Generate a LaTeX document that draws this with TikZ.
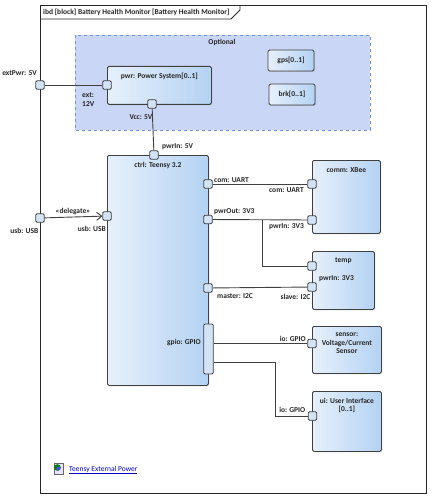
\documentclass[tikz,border=0pt]{standalone}
\usepackage{fontspec}
\setmainfont{Carlito}
\usepackage{xcolor}
\usetikzlibrary{calc, arrows.meta, shadows}

\definecolor{blkL}{HTML}{E6F0FC}
\definecolor{blkR}{HTML}{B4D2F3}
\definecolor{portC}{HTML}{D3E4F8}
\definecolor{optC}{HTML}{CAD6F5}
\definecolor{optD}{HTML}{6F93E2}
\definecolor{lineC}{HTML}{404040}

\tikzset{
	lbl/.style={font=\fontsize{7.5}{8.5}\selectfont\bfseries, text=black!85, inner sep=0pt, align=center},
	block/.style={lbl, draw=lineC, line width=0.8pt, rounded corners=1.5pt, left color=blkL, right color=blkR, anchor=north west,
		drop shadow={shadow xshift=1pt, shadow yshift=-1pt, opacity=.25}},
	port/.style={draw=lineC, line width=0.8pt, fill=portC, rounded corners=1.2pt, minimum size=8.5pt, inner sep=0pt},
	wire/.style={draw=lineC, line width=0.9pt},
	ttl/.style={lbl, anchor=north}
}

\begin{document}
\begin{tikzpicture}[x=1pt, y=-1pt]
		\useasboundingbox (0,0) rectangle (433,500);
		
		% frame
		\draw [black!85, line width=1pt] (40,6) rectangle (426,493);
		\draw [black!85, line width=0.8pt] (40,19) -- (231,19) -- (240,10) -- (240,6);
		\node [lbl, anchor=west] (title) at (43,12.5) {ibd [block] Battery Health Monitor [Battery Health Monitor]};
		
		% optional region
		\draw [optD, fill=optC, dashed, line width=0.8pt] (75,35) rectangle (370,130);
		\node [lbl] (optional) at (222,42) {Optional};
		
		\node [block, minimum width=104pt, minimum height=38pt] (pwr) at (107,66) {};
		\node [ttl] at ($(pwr.north)+(0,7)$) {pwr: Power System[0..1]};
		\node [block, minimum width=46pt, minimum height=21pt, anchor=center] (gps) at (291,60.5) {gps[0..1]};
		\node [block, minimum width=46pt, minimum height=21pt, anchor=center] (brk) at (292,94.5) {brk[0..1]};
		
		% teensy
		\node [block, minimum width=101pt, minimum height=230pt] (ctrl) at (107,155) {};
		\node [ttl] at ($(ctrl.north)+(0,7)$) {ctrl: Teensy 3.2};
		
		\node [block, minimum width=68pt, minimum height=73pt] (comm) at (312,160) {};
		\node [ttl] at ($(comm.north)+(0,7)$) {comm: XBee};
		
		\node [block, minimum width=62pt, minimum height=58pt] (temp) at (312,251) {};
		\node [ttl] at ($(temp.north)+(0,7)$) {temp};
		
		\node [block, minimum width=69pt, minimum height=47pt] (sensor) at (312,326) {};
		\node [ttl] at ($(sensor.north)+(0,7)$) {sensor:\\Voltage/Current\\Sensor};
		
		\node [block, minimum width=69pt, minimum height=60pt] (ui) at (312,391) {};
		\node [ttl] at ($(ui.north)+(0,7)$) {ui: User Interface\\{}[0..1]};
		
		% ports
		\node [port] (fExt) at (40,85) {};
		\node [port] (fUsb) at (40,218) {};
		\node [port] (pExt) at (107,85) {};
		\node [port] (pVcc) at (152,104) {};
		\node [port] (cPwr) at (154,155) {};
		\node [port] (cUsb) at (107,216) {};
		\node [port] (cCom) at (208,184) {};
		\node [port] (cOut) at (208,219.5) {};
		\node [port] (cMst) at (208,288) {};
		\node [port, minimum width=9.5pt, minimum height=50pt] (cGpio) at (208.5,349) {};
		\node [port] (xCom) at (312,184) {};
		\node [port] (xPwr) at (312,220) {};
		\node [port] (tPwr) at (312,266) {};
		\node [port] (tSl) at (312,287) {};
		\node [port] (sIo) at (312,343.5) {};
		\node [port] (uIo) at (312.5,416) {};
		
		% wires
		\coordinate (jOut) at (262,219.5);
		\coordinate (jGpio) at (275,362);
		
		\draw [wire] (fExt) -- (pExt);
		\draw [wire] (pVcc) -- (cPwr);
		\draw [wire, -{Straight Barb[length=5pt, width=8pt]}] (fUsb) -- (cUsb);
		\draw [wire] (cCom) -- (xCom);
		\draw [wire] (cOut) -- (xPwr);
		\draw [wire] (jOut) |- (tPwr);
		\draw [wire] (cMst) -- (tSl);
		\draw [wire] (cGpio.east |- sIo) -- (sIo);
		\draw [wire] (cGpio.east |- jGpio) -- (jGpio) |- (uIo);
		
		% port labels
		\node [lbl, anchor=east] at (37,73) {extPwr: 5V};
		\node [lbl, anchor=north west, align=left] at (82,93) {ext:\\12V};
		\node [lbl] at (141,117) {Vcc: 5V};
		\node [lbl, anchor=west] at (162,147) {pwrIn: 5V};
		\node [lbl] at (73,212) {«delegate»};
		\node [lbl, anchor=east] at (38.5,231) {usb: USB};
		\node [lbl, anchor=east] at (106,229) {usb: USB};
		\node [lbl, anchor=west] at (214,180) {com: UART};
		\node [lbl, anchor=west] at (214,212) {pwrOut: 3V3};
		\node [lbl, anchor=west] at (217,296) {master: I2C};
		\node [lbl, anchor=east] at (201,343) {gpio: GPIO};
		\node [lbl, anchor=east] at (304,190) {com: UART};
		\node [lbl, anchor=east] at (304,227) {pwrIn: 3V3};
		\node [lbl, anchor=west] at (319,279) {pwrIn: 3V3};
		\node [lbl, anchor=east] at (310.5,297) {slave: I2C};
		\node [lbl, anchor=east] at (306,339) {io: GPIO};
		\node [lbl, anchor=east] at (305.5,410) {io: GPIO};
		
		% hyperlink
		\draw [black!60, fill=blue!10] (54,463) rectangle (63,474);
		\fill [green!50!black] (57.5,467.5) circle (3.3);
		\fill [blue!70] (58.5,468.5) circle (2);
		\node [lbl, anchor=west, text=blue!80!black, font=\fontsize{7.5}{8.5}\selectfont] (link) at (69,470) {\underline{Teensy External Power}};
	\end{tikzpicture}
\end{document}
